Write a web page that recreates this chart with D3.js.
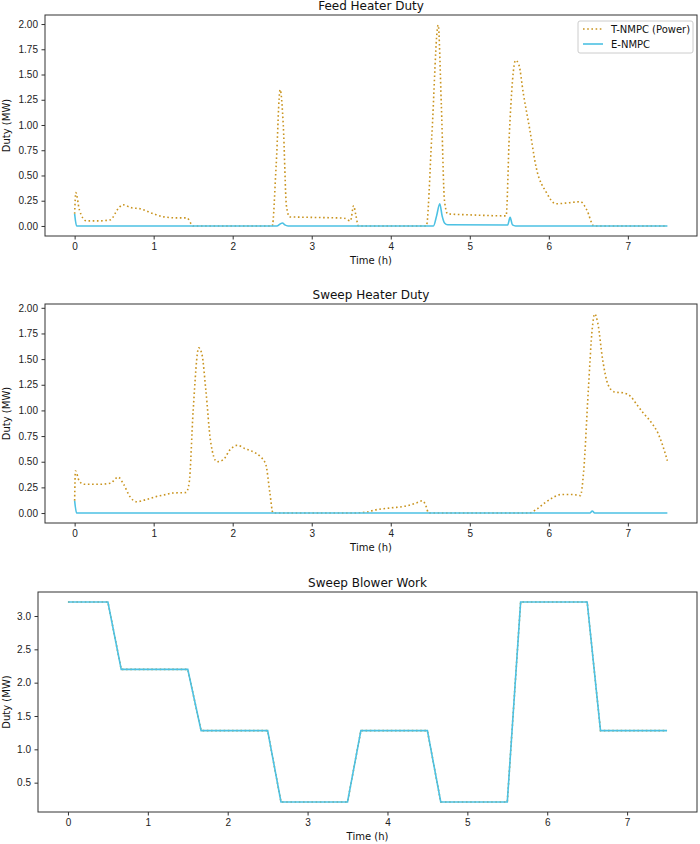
<!DOCTYPE html>
<html>
<head>
<meta charset="utf-8">
<script src="https://cdn.jsdelivr.net/npm/d3@7"></script>
<style>
    body { margin: 0; background: #fff; }
    svg { display: block; font-family: "DejaVu Sans", sans-serif; }
    .tick text { font-size: 10px; fill: #222; }
    .tick line { stroke: #333; }
    .domain { display: none; }
</style>
</head>
<body>
<svg id="chart" width="700" height="844"></svg>
<script>
// Feed heater duty (MW) vs time (h)
const feedTNMPC = [
    [0, 0.12], [0.015, 0.33], [0.06, 0.16], [0.15, 0.05], [0.3, 0.05], [0.45, 0.06],
    [0.55, 0.17], [0.61, 0.21], [0.72, 0.18], [0.83, 0.17], [1.0, 0.12], [1.13, 0.09],
    [1.3, 0.08], [1.42, 0.08], [1.5, 0.0], [2.5, 0.0], [2.55, 0.6], [2.6, 1.35],
    [2.64, 1.0], [2.68, 0.2], [2.72, 0.09], [3.0, 0.085], [3.41, 0.077], [3.49, 0.05],
    [3.53, 0.2], [3.56, 0.1], [3.59, 0.0], [4.45, 0.0], [4.52, 0.9], [4.6, 1.99],
    [4.64, 1.2], [4.68, 0.25], [4.72, 0.12], [5.0, 0.11], [5.46, 0.1], [5.5, 0.9],
    [5.58, 1.64], [5.62, 1.6], [5.68, 1.3], [5.76, 0.95], [5.84, 0.58], [5.97, 0.33],
    [6.09, 0.22], [6.26, 0.23], [6.4, 0.24], [6.48, 0.16], [6.57, 0.0], [7.5, 0.0]
];
const feedENMPC = [
    [0, 0.12], [0.025, 0.0], [2.56, 0.0], [2.6, 0.02], [2.63, 0.03], [2.66, 0.01],
    [2.7, 0.0], [4.54, 0.0], [4.58, 0.1], [4.62, 0.22], [4.65, 0.1], [4.68, 0.03],
    [4.72, 0.012], [5.48, 0.01], [5.51, 0.085], [5.54, 0.01], [5.58, 0.0], [7.5, 0.0]
];

// Sweep heater duty
const sweepTNMPC = [
    [0, 0.12], [0.01, 0.41], [0.06, 0.31], [0.12, 0.28], [0.3, 0.28], [0.45, 0.29],
    [0.55, 0.35], [0.62, 0.28], [0.7, 0.16], [0.78, 0.11], [0.9, 0.13], [1.03, 0.16],
    [1.15, 0.18], [1.24, 0.195], [1.41, 0.2], [1.45, 0.3], [1.5, 1.0], [1.57, 1.61],
    [1.61, 1.55], [1.66, 1.2], [1.72, 0.7], [1.8, 0.5], [1.88, 0.52], [1.97, 0.62],
    [2.06, 0.66], [2.15, 0.63], [2.25, 0.6], [2.35, 0.55], [2.42, 0.47], [2.47, 0.2],
    [2.51, 0.0], [3.5, 0.0], [3.7, 0.01], [3.8, 0.03], [4.0, 0.05], [4.2, 0.07],
    [4.33, 0.1], [4.4, 0.12], [4.44, 0.08], [4.48, 0.0], [5.75, 0.0], [5.85, 0.04],
    [5.95, 0.1], [6.05, 0.15], [6.15, 0.18], [6.3, 0.18], [6.4, 0.17], [6.44, 0.4],
    [6.5, 1.2], [6.55, 1.8], [6.58, 1.94], [6.62, 1.85], [6.68, 1.5], [6.75, 1.25],
    [6.83, 1.18], [6.95, 1.17], [7.03, 1.14], [7.12, 1.05], [7.2, 0.97], [7.3, 0.88],
    [7.38, 0.78], [7.44, 0.66], [7.5, 0.51]
];
const sweepENMPC = [
    [0, 0.12], [0.025, 0.0], [6.52, 0.0], [6.55, 0.02], [6.58, 0.0], [7.5, 0.0]
];

// Sweep blower work
const blowerTime = [0, 0.5, 0.667, 1.5, 1.667, 2.5, 2.667, 3.5, 3.667, 4.5, 4.667, 5.5, 5.667, 6.5, 6.667, 7.5];
const blowerWork = [3.21, 3.21, 2.2, 2.2, 1.28, 1.28, 0.21, 0.21, 1.28, 1.28, 0.21, 0.21, 3.21, 3.21, 1.28, 1.28];

const xTicks = [0, 1, 2, 3, 4, 5, 6, 7];
const dutyTicks = [0, 0.25, 0.5, 0.75, 1.0, 1.25, 1.5, 1.75, 2.0];
const blowerTicks = [0.5, 1.0, 1.5, 2.0, 2.5, 3.0];

const tnmpcColor = '#c9941f';
const enmpcColor = '#4cc1e3';

const svg = d3.select('#chart');

// matplotlib-style 5% margin around the data
function padded(lo, hi) {
    const m = (hi - lo) * 0.05;
    return [lo - m, hi + m];
}

function drawPanel(opts) {
    const { left, top, right, bottom, title, series, yTicks, yFormat, legend } = opts;
    const g = svg.append('g');

    const allY = series.flatMap(s => s.data.map(d => d[1]));
    const x = d3.scaleLinear().domain(padded(0, 7.5)).range([left, right]);
    const y = d3.scaleLinear().domain(padded(d3.min(allY), d3.max(allY))).range([bottom, top]);

    const clipId = 'clip' + top;
    g.append('clipPath').attr('id', clipId)
        .append('rect')
        .attr('x', left).attr('y', top)
        .attr('width', right - left).attr('height', bottom - top);

    const plot = g.append('g').attr('clip-path', `url(#${clipId})`);
    series.forEach(s => {
        const line = d3.line()
            .x(d => x(d[0]))
            .y(d => y(d[1]))
            .curve(s.linear ? d3.curveLinear : d3.curveMonotoneX);
        plot.append('path')
            .datum(s.data)
            .attr('d', line)
            .attr('fill', 'none')
            .attr('stroke', s.color)
            .attr('stroke-width', s.width)
            .attr('stroke-dasharray', s.dash || null);
    });

    // axes
    g.append('g')
        .attr('transform', `translate(0,${bottom})`)
        .call(d3.axisBottom(x).tickValues(xTicks).tickSize(3.5).tickPadding(3.5).tickFormat(d3.format('d')));

    g.append('g')
        .attr('transform', `translate(${left},0)`)
        .call(d3.axisLeft(y).tickValues(yTicks).tickSize(3.5).tickPadding(3.5).tickFormat(d3.format(yFormat)));

    g.append('rect')
        .attr('x', left).attr('y', top)
        .attr('width', right - left).attr('height', bottom - top)
        .attr('fill', 'none')
        .attr('stroke', '#333')
        .attr('stroke-width', 1);

    g.append('text')
        .attr('x', (left + right) / 2)
        .attr('y', top - 5)
        .attr('text-anchor', 'middle')
        .style('font-size', '12px')
        .style('fill', '#111')
        .text(title);

    g.append('text')
        .attr('x', (left + right) / 2)
        .attr('y', bottom + 28)
        .attr('text-anchor', 'middle')
        .style('font-size', '10px')
        .style('fill', '#111')
        .text('Time (h)');

    g.append('text')
        .attr('transform', `translate(10,${(top + bottom) / 2}) rotate(-90)`)
        .attr('text-anchor', 'middle')
        .style('font-size', '10px')
        .style('fill', '#111')
        .text('Duty (MW)');

    if (legend) {
        const lg = g.append('g').attr('transform', `translate(${right - 119},${top + 6})`);
        lg.append('rect')
            .attr('width', 115).attr('height', 32)
            .attr('rx', 2)
            .attr('fill', '#fff')
            .attr('fill-opacity', 0.8)
            .attr('stroke', '#ccc');
        series.forEach((s, i) => {
            const yy = 8 + i * 15;
            lg.append('line')
                .attr('x1', 5).attr('x2', 25)
                .attr('y1', yy).attr('y2', yy)
                .attr('stroke', s.color)
                .attr('stroke-width', s.width)
                .attr('stroke-dasharray', s.dash || null);
            lg.append('text')
                .attr('x', 33).attr('y', yy + 3.5)
                .style('font-size', '10px')
                .style('fill', '#111')
                .text(s.name);
        });
    }
}

drawPanel({
    left: 45, top: 15, right: 697, bottom: 236,
    title: 'Feed Heater Duty',
    yTicks: dutyTicks, yFormat: '.2f', legend: true,
    series: [
        { name: 'T-NMPC (Power)', data: feedTNMPC, color: tnmpcColor, width: 1.6, dash: '1.6,2.6' },
        { name: 'E-NMPC', data: feedENMPC, color: enmpcColor, width: 1.6 }
    ]
});

drawPanel({
    left: 45, top: 304, right: 697, bottom: 523,
    title: 'Sweep Heater Duty',
    yTicks: dutyTicks, yFormat: '.2f',
    series: [
        { name: 'T-NMPC (Power)', data: sweepTNMPC, color: tnmpcColor, width: 1.6, dash: '1.6,2.6' },
        { name: 'E-NMPC', data: sweepENMPC, color: enmpcColor, width: 1.6 }
    ]
});

const blowerData = blowerTime.map((t, i) => [t, blowerWork[i]]);
drawPanel({
    left: 38, top: 592, right: 697, bottom: 812,
    title: 'Sweep Blower Work',
    yTicks: blowerTicks, yFormat: '.1f',
    series: [
        { name: 'T-NMPC (Power)', data: blowerData, color: tnmpcColor, width: 1.6, dash: '1.6,2.6', linear: true },
        { name: 'E-NMPC', data: blowerData, color: enmpcColor, width: 1.6, linear: true }
    ]
});
</script>
</body>
</html>
